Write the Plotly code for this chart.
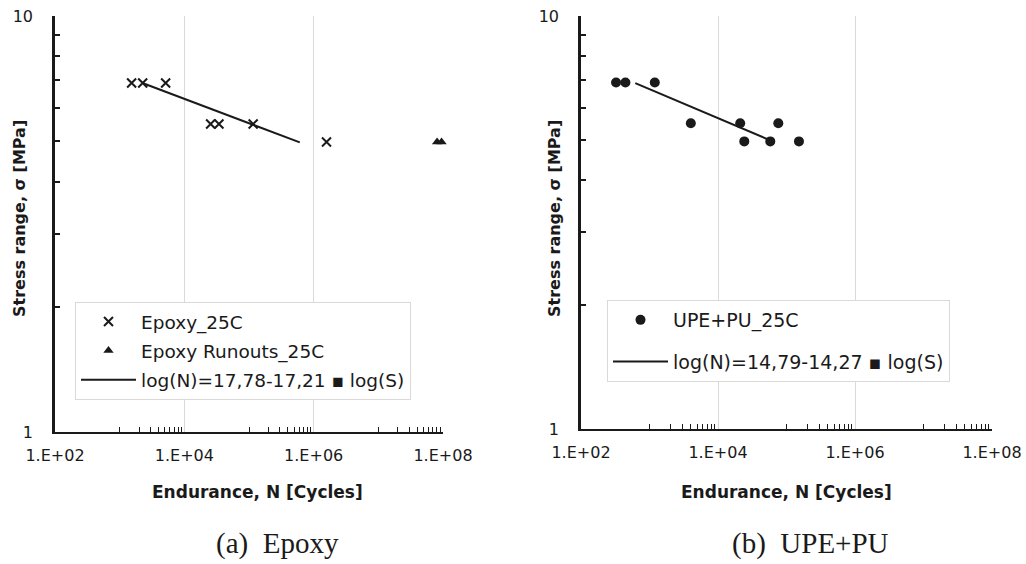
import plotly.graph_objects as go

# ---- data ----
epoxy_N = [1530, 2270, 5140, 25500, 34300, 116000, 1.58e6]
epoxy_S = [6.9, 6.9, 6.9, 5.5, 5.5, 5.5, 4.98]
runout_N = [8.1e7, 9.5e7]
runout_S = [4.98, 4.98]
epoxy_fit_N = [2300, 6.1e5]
epoxy_fit_S = [6.89, 4.97]

upe_N = [325, 445, 1195, 4010, 21100, 75900, 24200, 58000, 152000]
upe_S = [6.9, 6.9, 6.9, 5.5, 5.5, 5.5, 4.97, 4.97, 4.97]
upe_fit_N = [620, 58000]
upe_fit_S = [6.88, 5.0]

x_major = [1e2, 1e4, 1e6, 1e8]
x_major_text = ["1.E+02", "1.E+04", "1.E+06", "1.E+08"]
x_minor = [m * 10 ** e for e in (3, 5, 7) for m in range(1, 10)]
y_major = [1, 10]
y_major_text = ["1", "10"]
y_minor = [2, 3, 4, 5, 6, 7, 8, 9]

names = ["Epoxy_25C", "Epoxy Runouts_25C", "log(N)=17,78-17,21 \u25aa log(S)",
         "UPE+PU_25C", "log(N)=14,79-14,27 \u25aa log(S)"]
captions = ["(a)  Epoxy", "(b)  UPE+PU"]
x_title = "<b>Endurance, N [Cycles]</b>"
y_title = "<b>Stress range, \u03c3 [MPa]</b>"

INK = "#1a1a1a"
GRID = "#d9d9d9"
FONT = "DejaVu Sans"
W, H = 1026, 564

fig = go.Figure()
fig.add_trace(go.Scatter(x=epoxy_N, y=epoxy_S, mode="markers", name=names[0],
                         marker=dict(symbol="x-thin", size=9, line=dict(width=2, color=INK), color=INK),
                         xaxis="x", yaxis="y", legend="legend", legendgroup="a", cliponaxis=False))
fig.add_trace(go.Scatter(x=runout_N, y=runout_S, mode="markers", name=names[1],
                         marker=dict(symbol="triangle-up", size=9, color=INK),
                         xaxis="x", yaxis="y", legend="legend", legendgroup="b", cliponaxis=False))
fig.add_trace(go.Scatter(x=epoxy_fit_N, y=epoxy_fit_S, mode="lines", name=names[2],
                         line=dict(color=INK, width=2),
                         xaxis="x", yaxis="y", legend="legend", legendgroup="c"))
fig.add_trace(go.Scatter(x=upe_N, y=upe_S, mode="markers", name=names[3],
                         marker=dict(symbol="circle", size=10, color=INK),
                         xaxis="x2", yaxis="y2", legend="legend2", legendgroup="d"))
fig.add_trace(go.Scatter(x=upe_fit_N, y=upe_fit_S, mode="lines", name=names[4],
                         line=dict(color=INK, width=2),
                         xaxis="x2", yaxis="y2", legend="legend2", legendgroup="e"))

def xaxis(domain, anchor):
    return dict(domain=domain, anchor=anchor, type="log", range=[2, 8], automargin=False,
                tickvals=x_major, ticktext=x_major_text, ticks="inside", ticklen=0,
                showgrid=True, gridcolor=GRID, gridwidth=1,
                showline=True, linecolor=INK, linewidth=2, zeroline=False,
                minor=dict(tickvals=x_minor, ticks="inside", ticklen=5, tickwidth=1,
                           tickcolor=INK, showgrid=False),
                tickfont=dict(family=FONT, size=16, color=INK), ticklabelstandoff=8)

def yaxis(domain, anchor):
    return dict(domain=domain, anchor=anchor, type="log", range=[0, 1], automargin=False,
                tickvals=y_major, ticktext=y_major_text, ticks="inside", ticklen=5,
                tickwidth=2, tickcolor=INK,
                showgrid=True, gridcolor=GRID, gridwidth=1,
                showline=True, linecolor=INK, linewidth=2.5, zeroline=False,
                minor=dict(tickvals=y_minor, ticks="inside", ticklen=5, tickwidth=2,
                           tickcolor=INK, showgrid=False),
                tickfont=dict(family=FONT, size=16, color=INK), ticklabelstandoff=16)

legend_common = dict(bgcolor="white", bordercolor=GRID, borderwidth=1,
                     xanchor="left", yanchor="top", itemwidth=55)

def ann(text, px, py, size, family=FONT, angle=0):
    return dict(text=text, x=px / W, y=1 - py / H, xref="paper", yref="paper",
                showarrow=False, xanchor="center", yanchor="middle", textangle=angle,
                font=dict(family=family, size=size, color=INK))

fig.update_layout(
    width=W, height=H, margin=dict(l=0, r=0, t=0, b=0, autoexpand=False),
    paper_bgcolor="white", plot_bgcolor="white",
    xaxis=xaxis([55 / W, 443 / W], "y"),
    yaxis=yaxis([1 - 432 / H, 1 - 16 / H], "x"),
    xaxis2=xaxis([581 / W, 992 / W], "y2"),
    yaxis2=yaxis([1 - 429 / H, 1 - 16 / H], "x2"),
    legend=dict(x=75 / W, y=1 - 302 / H, tracegroupgap=2,
                font=dict(family=FONT, size=18.5, color=INK), **legend_common),
    legend2=dict(x=607 / W, y=1 - 300 / H, tracegroupgap=14,
                 font=dict(family=FONT, size=19, color=INK), **legend_common),
    annotations=[
        ann(x_title, 257, 492, 17),
        ann(x_title, 786, 492, 17),
        ann(y_title, 19, 219, 16, angle=-90),
        ann(y_title, 554, 219, 16, angle=-90),
        ann(captions[0], 277, 543, 29, family="Liberation Serif"),
        ann(captions[1], 810, 543, 29, family="Liberation Serif"),
    ],
)

fig.write_html("out.html", config={"displayModeBar": False},
               post_script="document.body.style.margin='0px';")
